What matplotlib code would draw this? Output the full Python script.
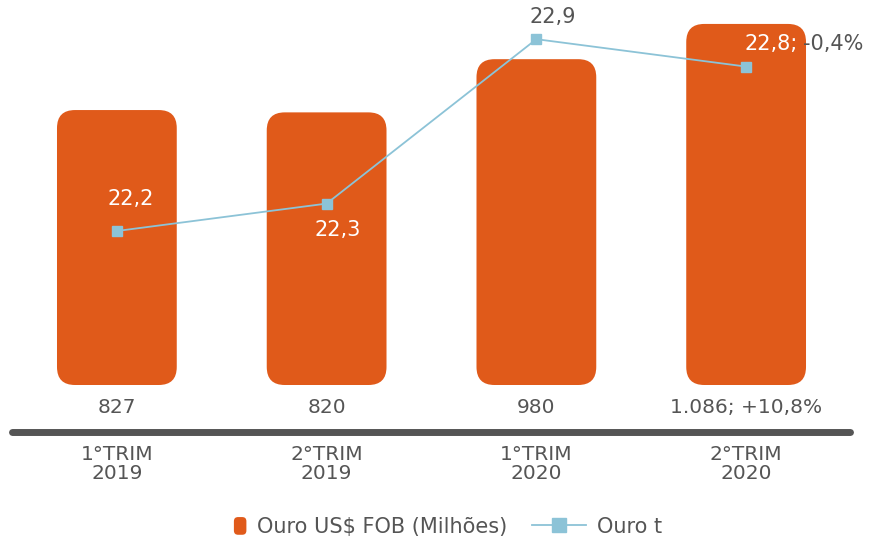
import matplotlib.pyplot as plt
from matplotlib.patches import FancyBboxPatch, Patch
from matplotlib.lines import Line2D
from matplotlib.legend_handler import HandlerPatch

plt.rcParams['font.family'] = ['DejaVu Sans']

quarters = ['1°TRIM\n2019', '2°TRIM\n2019', '1°TRIM\n2020', '2°TRIM\n2020']
usd_fob = [827, 820, 980, 1086]
usd_labels = ['827', '820', '980', '1.086; +10,8%']
ouro_t = [22.2, 22.3, 22.9, 22.8]
ouro_labels = ['22,2', '22,3', '22,9', '22,8;']
ouro_change = '-0,4%'

ORANGE = '#E05A1A'
BLUE = '#8CC3D7'
GREY = '#555555'

fig = plt.figure(figsize=(8.75, 5.42), dpi=100)
ax = fig.add_axes([12 / 875, 157 / 542, 839 / 875, 385 / 542])
ax2 = ax.twinx()

x = list(range(len(quarters)))
w = 0.571
ax.set_xlim(-0.5, 3.5)
ax.set_ylim(0, 1158)

# rounded bars (radius ~18px)
r_x = 18 / 210
r_y = 18 / 0.3325
for xi, v in zip(x, usd_fob):
    p = FancyBboxPatch((xi - w / 2, 0), w, v,
                       boxstyle=f"round,pad=0,rounding_size={r_x}",
                       mutation_aspect=r_y / r_x,
                       fc=ORANGE, ec='none', zorder=2)
    ax.add_patch(p)

for xi, lab in zip(x, usd_labels):
    ax.annotate(lab, (xi, 0), xytext=(0, -16), textcoords='offset points',
                ha='center', va='center', fontsize=14.5, color=GREY)

# line on secondary axis
ax2.set_ylim(21.638, 23.043)
ax2.plot(x, ouro_t, color=BLUE, lw=1.3, marker='s', ms=7, zorder=3)

offsets = [(10, 23), (8, -19), (12, 16)]
for xi, v, lab, off in zip(x[:3], ouro_t[:3], ouro_labels[:3], offsets):
    col = 'white' if xi < 2 else GREY
    ax2.annotate(lab, (xi, v), xytext=off, textcoords='offset points',
                 ha='center', va='center', fontsize=15, color=col)
ax2.annotate(ouro_labels[3], (x[3], ouro_t[3]), xytext=(37, 16),
             textcoords='offset points', ha='right', va='center',
             fontsize=15, color='white')
ax2.annotate(ouro_change, (x[3], ouro_t[3]), xytext=(41, 16),
             textcoords='offset points', ha='left', va='center',
             fontsize=15, color=GREY)

for a in (ax, ax2):
    for s in a.spines.values():
        s.set_visible(False)
    a.set_yticks([])
ax.set_xticks(x)
ax.set_xticklabels(quarters, fontsize=14.5, color=GREY, linespacing=1.0)
ax.tick_params(axis='x', length=0, pad=43)

# thick baseline
fig.add_artist(Line2D([12 / 875, 850 / 875], [110 / 542, 110 / 542],
                      color=GREY, lw=5, solid_capstyle='round'))


def small_box(legend, orig_handle, xdescent, ydescent, width, height, fontsize):
    bw, bh = 0.6 * fontsize, 0.85 * fontsize
    return FancyBboxPatch((-xdescent + width - bw, -ydescent + (height - bh) / 2), bw, bh,
                          boxstyle=f"round,pad=0,rounding_size={0.2 * fontsize}")


handles = [Patch(fc=ORANGE, ec='none'),
           Line2D([], [], color=BLUE, lw=1.3, marker='s', ms=10)]
fig.legend(handles, ['Ouro US$ FOB (Milhões)', 'Ouro t'], loc='center',
           bbox_to_anchor=(0.488, 0.028), ncol=2, frameon=False,
           fontsize=15, labelcolor=GREY, handlelength=2.6, handleheight=1.0,
           handletextpad=0.5, columnspacing=1.2,
           handler_map={Patch: HandlerPatch(patch_func=small_box)})

fig.savefig('out.png', dpi=100)
